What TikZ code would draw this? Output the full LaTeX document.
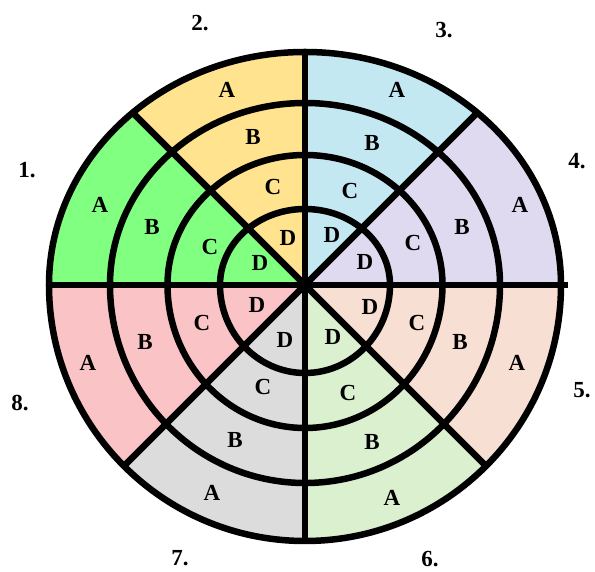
\documentclass[tikz,border=0pt]{standalone}
\usepackage{fontspec}
\setmainfont{Liberation Serif}
\usepackage{xcolor}
\definecolor{sectGreen}{RGB}{128,255,128}
\definecolor{sectYellow}{RGB}{255,227,142}
\definecolor{sectBlue}{RGB}{196,232,242}
\definecolor{sectLilac}{RGB}{223,218,240}
\definecolor{sectPeach}{RGB}{248,223,212}
\definecolor{sectMint}{RGB}{218,240,206}
\definecolor{sectGrey}{RGB}{220,220,220}
\definecolor{sectPink}{RGB}{250,196,198}
\tikzset{
    ringline/.style={draw=black, line width=6.5pt},
    spokeline/.style={draw=black, line width=6.5pt},
    zonelabel/.style={inner sep=0pt, font=\fontsize{23}{23}\selectfont\bfseries},
    sectnum/.style={inner sep=0pt, font=\fontsize{23}{23}\selectfont\bfseries}
}

\begin{document}
\begin{tikzpicture}[x=1pt, y=1pt]
    \useasboundingbox (-305,-287) rectangle (290,285);
    % coloured sectors, cut to the outer ring
    \begin{scope}
        \clip (256,0) arc[start angle=0, end angle=180, x radius=256, y radius=233]
            arc[start angle=180, end angle=360, x radius=256, y radius=256] -- cycle;
        \foreach \a/\c in {135/sectGreen, 90/sectYellow, 45/sectBlue, 0/sectLilac,
            -45/sectPeach, -90/sectMint, -135/sectGrey, 180/sectPink}
            \fill[\c] (0,0) -- (\a:400) -- (\a+45:400) -- cycle;
        \foreach \a in {45,90,...,360}
            \draw[spokeline] (0,0) -- (\a:300);
    \end{scope}
    \draw[spokeline] (-256,0) -- (263,0);
    % rings
    \foreach \rx/\rt/\rb in {256/233/256, 195/182/198, 137.5/130/143, 85/76/88}
        \draw[ringline] (\rx,0) arc[start angle=0, end angle=180, x radius=\rx, y radius=\rt]
            arc[start angle=180, end angle=360, x radius=\rx, y radius=\rb] -- cycle;

    % sector 1
    \node[zonelabel] (a1) at (-205,80) {A};
    \node[zonelabel] (b1) at (-153,58) {B};
    \node[zonelabel] (c1) at (-95,38) {C};
    \node[zonelabel] (d1) at (-45,22) {D};
    % sector 2
    \node[zonelabel] (a2) at (-78,195) {A};
    \node[zonelabel] (b2) at (-52,148) {B};
    \node[zonelabel] (c2) at (-32,98) {C};
    \node[zonelabel] (d2) at (-17,47) {D};
    % sector 3
    \node[zonelabel] (a3) at (92,195) {A};
    \node[zonelabel] (b3) at (67,142) {B};
    \node[zonelabel] (c3) at (45,94) {C};
    \node[zonelabel] (d3) at (27,50) {D};
    % sector 4
    \node[zonelabel] (a4) at (215,80) {A};
    \node[zonelabel] (b4) at (157,58) {B};
    \node[zonelabel] (c4) at (108,42) {C};
    \node[zonelabel] (d4) at (60,23) {D};
    % sector 5
    \node[zonelabel] (a5) at (212,-78) {A};
    \node[zonelabel] (b5) at (155,-57) {B};
    \node[zonelabel] (c5) at (112,-38) {C};
    \node[zonelabel] (d5) at (65,-22) {D};
    % sector 6
    \node[zonelabel] (a6) at (87,-213) {A};
    \node[zonelabel] (b6) at (67,-157) {B};
    \node[zonelabel] (c6) at (43,-108) {C};
    \node[zonelabel] (d6) at (28,-52) {D};
    % sector 7
    \node[zonelabel] (a7) at (-93,-208) {A};
    \node[zonelabel] (b7) at (-70,-155) {B};
    \node[zonelabel] (c7) at (-42,-102) {C};
    \node[zonelabel] (d7) at (-20,-55) {D};
    % sector 8
    \node[zonelabel] (a8) at (-217,-78) {A};
    \node[zonelabel] (b8) at (-160,-57) {B};
    \node[zonelabel] (c8) at (-103,-38) {C};
    \node[zonelabel] (d8) at (-48,-20) {D};

    % sector numbers
    \node[sectnum] (n1) at (-278,115) {1.};
    \node[sectnum] (n2) at (-105,262) {2.};
    \node[sectnum] (n3) at (139,255) {3.};
    \node[sectnum] (n4) at (272,124) {4.};
    \node[sectnum] (n5) at (277,-105) {5.};
    \node[sectnum] (n6) at (125,-274) {6.};
    \node[sectnum] (n7) at (-125,-273) {7.};
    \node[sectnum] (n8) at (-285,-118) {8.};
\end{tikzpicture}
\end{document}
